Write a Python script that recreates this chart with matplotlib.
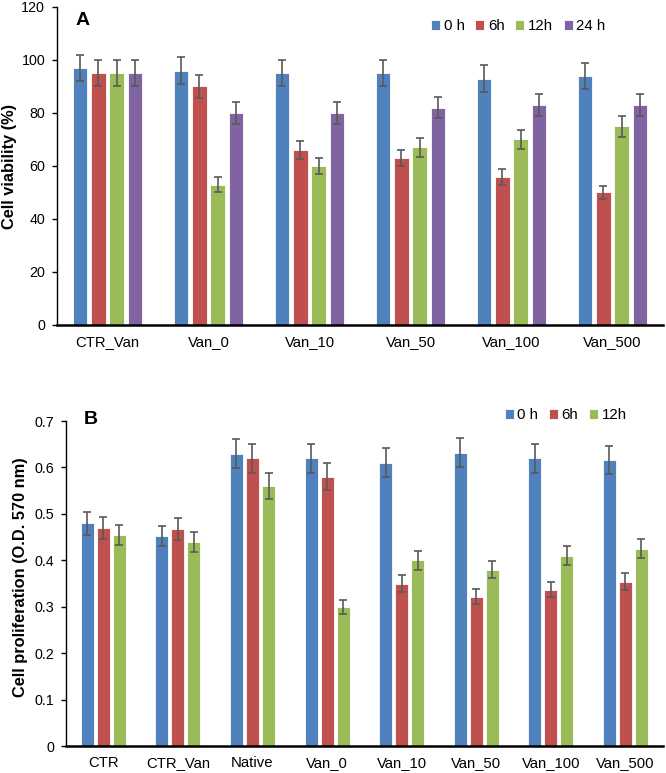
import matplotlib
matplotlib.use("Agg")
import matplotlib.pyplot as plt
import numpy as np

plt.rcParams["font.family"] = ["Liberation Sans", "DejaVu Sans"]

# Panel A: cell viability (%)
groups_a = ["CTR_Van", "Van_0", "Van_10", "Van_50", "Van_100", "Van_500"]
series_a = ["0 h", "6h", "12h", "24 h"]
vals_a = [
    [97, 96, 95, 95, 93, 94],   # 0 h
    [95, 90, 66, 63, 56, 50],   # 6h
    [95, 53, 60, 67, 70, 75],   # 12h
    [95, 80, 80, 82, 83, 83],   # 24 h
]
errs_a = [
    [5, 5, 5, 5, 5, 5],
    [5, 4.5, 3.5, 3, 3, 2.5],
    [5, 3, 3, 3.5, 3.5, 4],
    [5, 4, 4, 4, 4, 4],
]
yticks_a = [0, 20, 40, 60, 80, 100, 120]

# Panel B: cell proliferation (O.D. 570 nm)
groups_b = ["CTR", "CTR_Van", "Native", "Van_0", "Van_10", "Van_50", "Van_100", "Van_500"]
series_b = ["0 h", "6h", "12h"]
vals_b = [
    [0.480, 0.452, 0.630, 0.620, 0.610, 0.632, 0.620, 0.616],
    [0.470, 0.467, 0.620, 0.580, 0.350, 0.322, 0.337, 0.354],
    [0.455, 0.440, 0.560, 0.300, 0.400, 0.380, 0.410, 0.425],
]
errs_b = [
    [0.025, 0.022, 0.032, 0.031, 0.031, 0.032, 0.031, 0.031],
    [0.023, 0.024, 0.031, 0.029, 0.018, 0.016, 0.017, 0.018],
    [0.022, 0.022, 0.028, 0.015, 0.020, 0.019, 0.021, 0.021],
]
yticks_b = [0, 0.1, 0.2, 0.3, 0.4, 0.5, 0.6, 0.7]
yticklabels_b = ["0", "0.1", "0.2", "0.3", "0.4", "0.5", "0.6", "0.7"]

colors = ["#4F81BD", "#C0504D", "#9BBB59", "#8064A2"]
err_color = "#595959"


def draw_panel(ax, groups, series, vals, errs, pitch, width, yticks, yticklabels,
               ylim, ylabel, letter, letter_y, legend_anchor, label_xy):
    x = np.arange(len(groups))
    n = len(series)
    for i, name in enumerate(series):
        off = (i - (n - 1) / 2) * pitch
        ax.bar(x + off, vals[i], width, color=colors[i], label=name,
               edgecolor="white", linewidth=0.6, zorder=2)
        ax.errorbar(x + off, vals[i], yerr=errs[i], fmt="none", ecolor=err_color,
                    elinewidth=1.2, capsize=3.2, capthick=1.2, zorder=3)

    ax.set_xlim(-0.5, len(groups) - 0.5)
    ax.set_ylim(*ylim)
    ax.set_xticks(x)
    ax.set_xticklabels(groups, fontsize=10.7)
    ax.set_yticks(yticks)
    ax.set_yticklabels(yticklabels, fontsize=10.3)
    ax.tick_params(axis="x", length=0, pad=7)
    ax.tick_params(axis="y", length=3.5, width=1.0, pad=5, direction="out")
    for s in ("top", "right"):
        ax.spines[s].set_visible(False)
    ax.spines["left"].set_linewidth(1.0)
    ax.spines["bottom"].set_linewidth(1.8)
    ax.set_ylabel(ylabel, fontsize=11.8, fontweight="bold")
    ax.yaxis.set_label_coords(*label_xy)
    ax.text(0.03, letter_y, letter, transform=ax.transAxes, fontsize=14,
            fontweight="bold", va="top", ha="left")
    ax.legend(loc="center left", bbox_to_anchor=legend_anchor, ncol=n, frameon=False,
              fontsize=10.8, handlelength=0.6, handleheight=0.6, handletextpad=0.25,
              columnspacing=0.7, borderpad=0, borderaxespad=0)


fig = plt.figure(figsize=(6.66, 7.73), dpi=100)

ax_a = fig.add_axes([0.0856, 0.5796, 0.91, 0.4114])
draw_panel(ax_a, groups_a, series_a, vals_a, errs_a, pitch=0.181, width=0.143,
           yticks=yticks_a, yticklabels=[str(v) for v in yticks_a], ylim=(0, 120),
           ylabel="Cell viability (%)", letter="A", letter_y=0.985,
           legend_anchor=(0.617, 0.94), label_xy=(-0.066, 0.5))

ax_b = fig.add_axes([0.0991, 0.0349, 0.896, 0.4204])
draw_panel(ax_b, groups_b, series_b, vals_b, errs_b, pitch=0.215, width=0.175,
           yticks=yticks_b, yticklabels=yticklabels_b, ylim=(0, 0.7),
           ylabel="Cell proliferation (O.D. 570 nm)", letter="B", letter_y=1.03,
           legend_anchor=(0.735, 1.018), label_xy=(-0.064, 0.52))

fig.savefig("out.png", dpi=100)
